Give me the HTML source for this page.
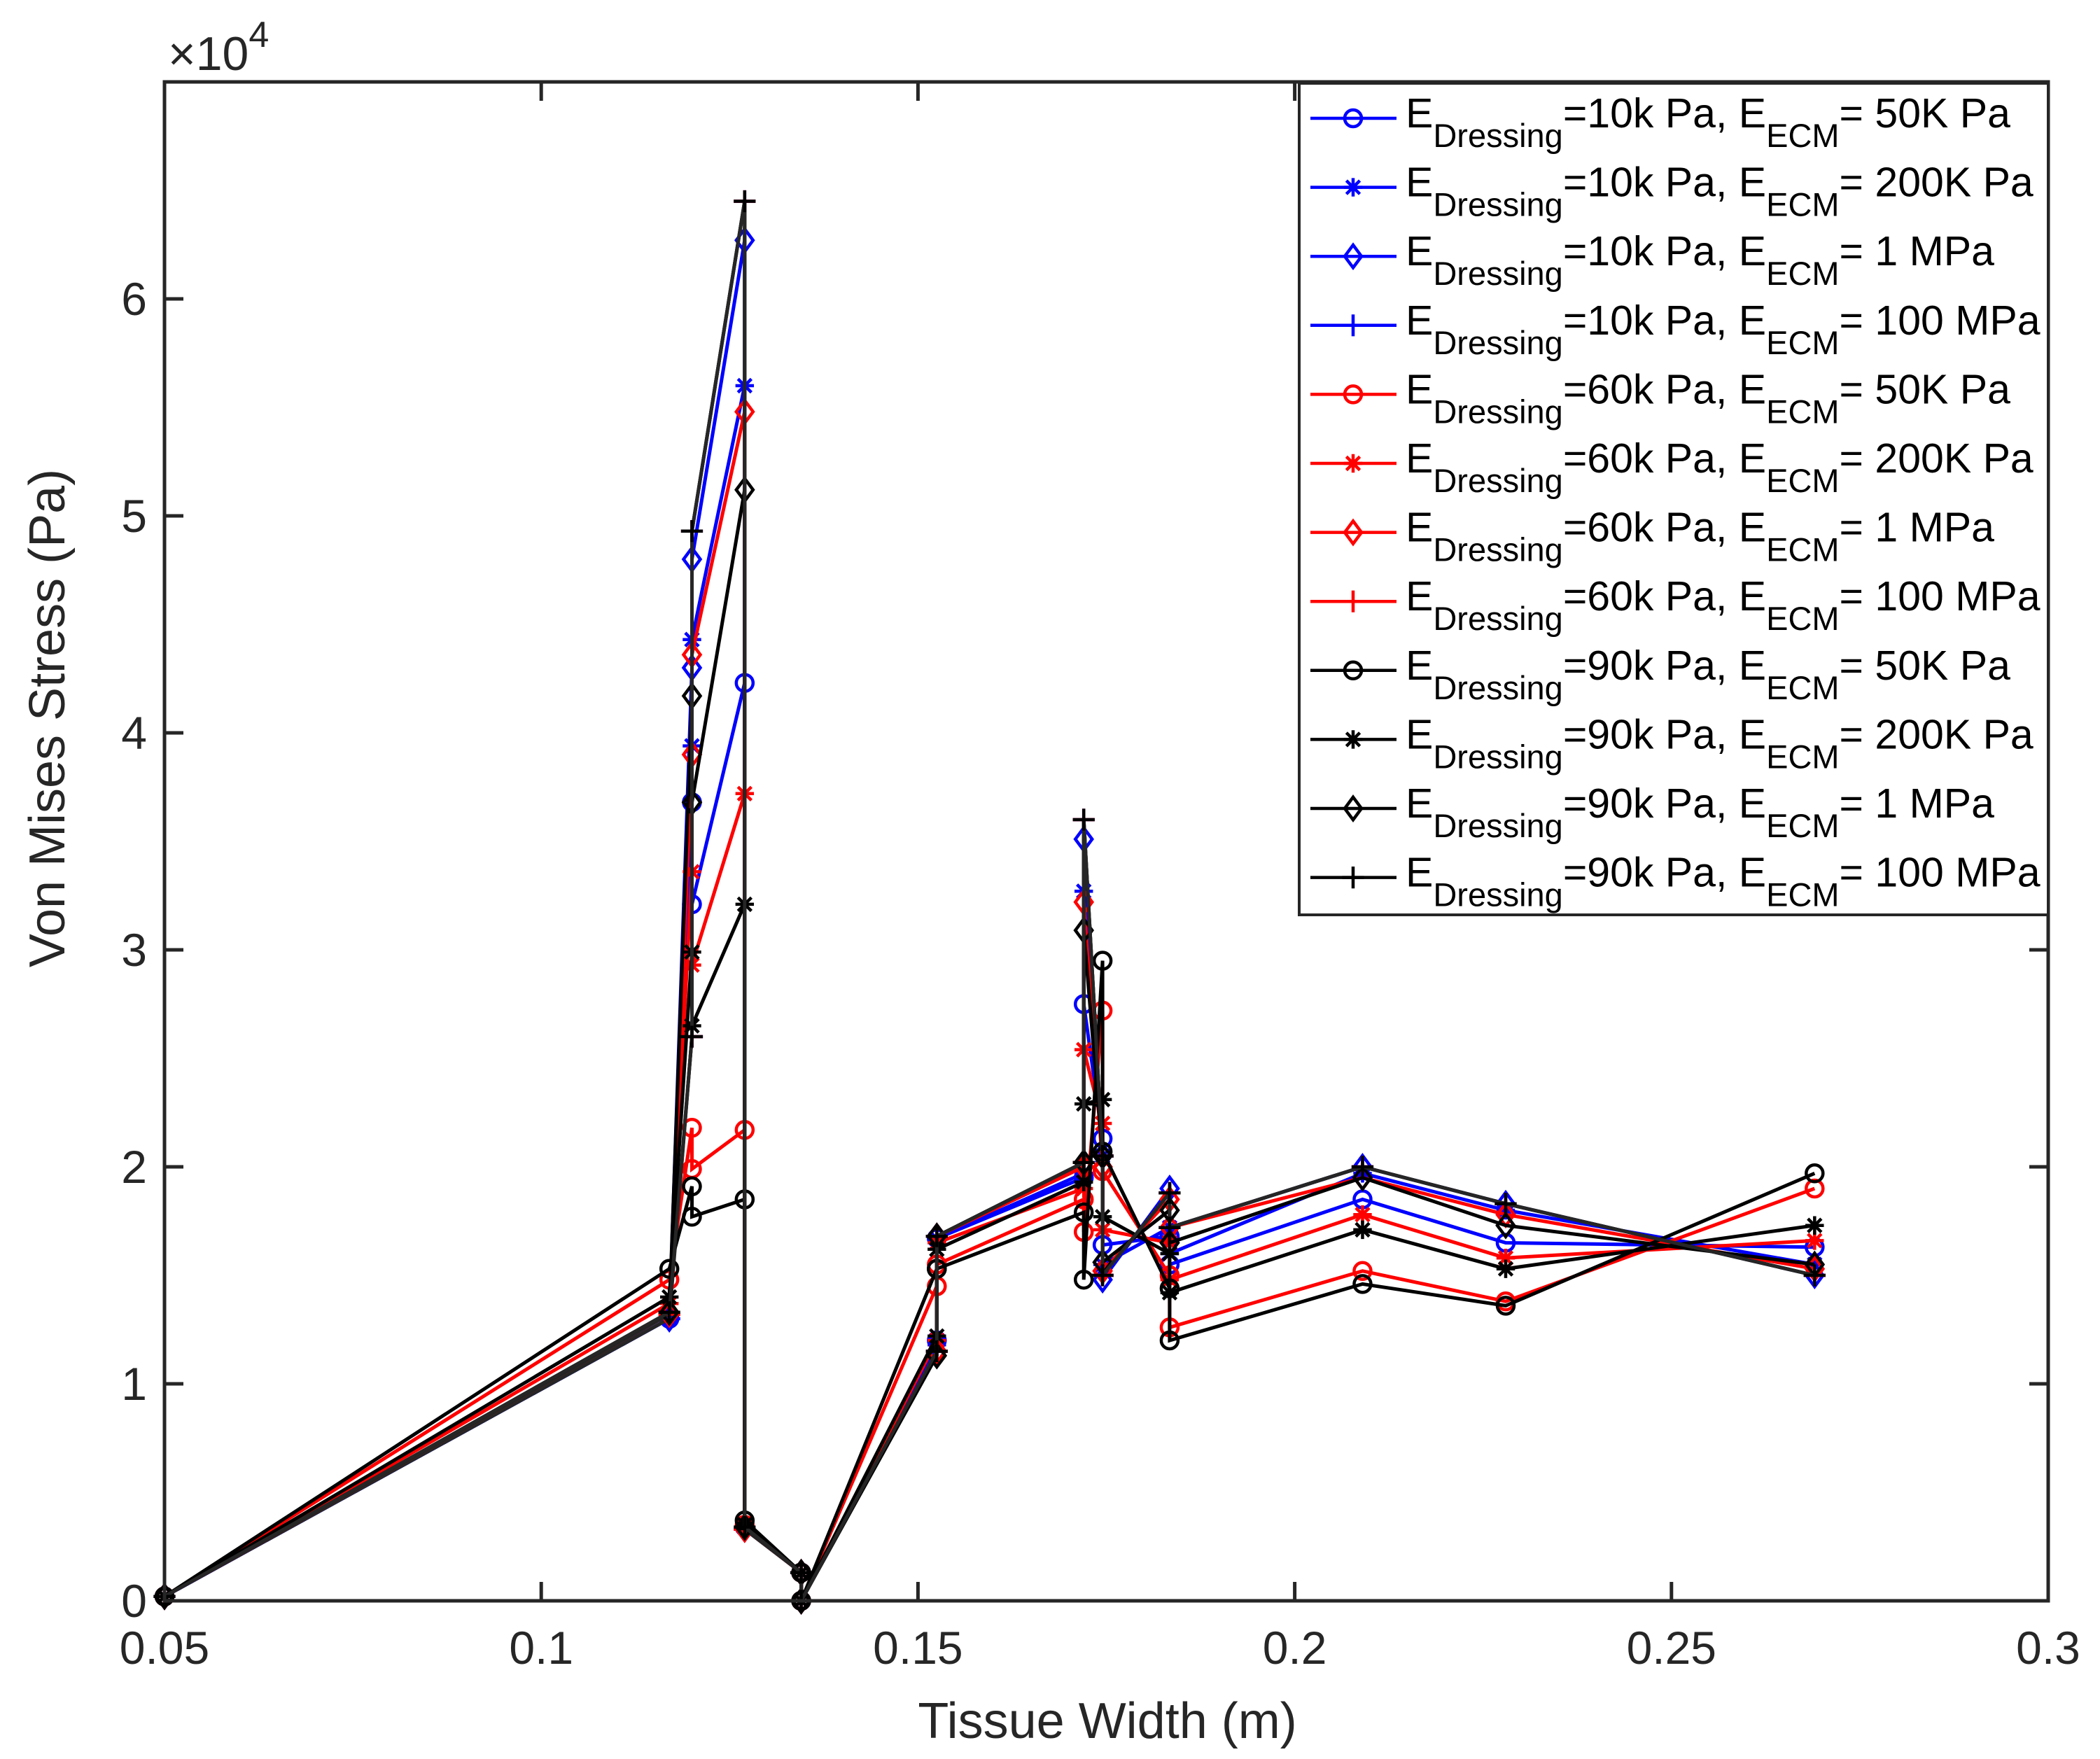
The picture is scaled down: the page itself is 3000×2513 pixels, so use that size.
<!DOCTYPE html>
<html>
<head>
<meta charset="utf-8">
<style>
html,body{margin:0;padding:0;background:#fff;}
svg{display:block;font-family:"Liberation Sans",Arial,sans-serif;}
</style>
</head>
<body>
<svg id="chart" width="3000" height="2513" viewBox="0 0 3000 2513" xmlns="http://www.w3.org/2000/svg">
<rect x="0" y="0" width="3000" height="2513" fill="#fff"/>
<g id="series"></g>
<g id="axes"></g>
<g id="legend"></g>
</svg>
<script>
// ---- data ----
const xPoints = [0.05, 0.117, 0.12, 0.12, 0.127, 0.127, 0.1345, 0.1345, 0.1525, 0.1525, 0.172, 0.172, 0.1745, 0.1745, 0.1834, 0.1834, 0.209, 0.228, 0.269];
const seriesLabels = ["=10k Pa, E|= 50K Pa","=10k Pa, E|= 200K Pa","=10k Pa, E|= 1 MPa","=10k Pa, E|= 100 MPa",
  "=60k Pa, E|= 50K Pa","=60k Pa, E|= 200K Pa","=60k Pa, E|= 1 MPa","=60k Pa, E|= 100 MPa",
  "=90k Pa, E|= 50K Pa","=90k Pa, E|= 200K Pa","=90k Pa, E|= 1 MPa","=90k Pa, E|= 100 MPa"];
const seriesColors = ["#0000ff","#0000ff","#0000ff","#0000ff","#ff0000","#ff0000","#ff0000","#ff0000","#000000","#000000","#000000","#000000"];
const seriesMarkers = ["o","*","d","+","o","*","d","+","o","*","d","+"];
// values in units of 1e4 Pa
const s1  = [0.02,1.30,3.68,3.21,4.23,0.34,0.13,0.0,1.20,1.67,1.95,2.75,2.13,1.64,1.68,1.55,1.85,1.65,1.63];
const s2  = [0.02,1.30,3.94,4.43,5.60,0.34,0.13,0.0,1.18,1.67,1.97,3.27,2.05,1.55,1.72,1.60,1.97,1.80,1.55];
const s3  = [0.02,1.30,4.30,4.80,6.27,0.33,0.13,0.0,1.15,1.68,2.00,3.51,2.05,1.48,1.90,1.72,2.00,1.83,1.50];
const s4  = [0.02,1.30,2.60,4.93,6.45,0.33,0.13,0.0,1.15,1.68,2.02,3.60,2.05,1.50,1.88,1.72,2.00,1.83,1.50];
const s5  = [0.02,1.48,2.18,1.99,2.17,0.35,0.13,0.0,1.45,1.55,1.85,1.70,2.72,1.98,1.50,1.26,1.52,1.38,1.90];
const s6  = [0.02,1.37,3.36,2.93,3.72,0.34,0.13,0.0,1.20,1.65,1.90,2.54,2.20,1.71,1.65,1.48,1.78,1.58,1.66];
const s7  = [0.02,1.32,3.90,4.36,5.48,0.33,0.13,0.0,1.15,1.68,2.00,3.22,2.00,1.52,1.85,1.72,1.95,1.78,1.53];
const s8  = [0.02,1.32,2.60,4.93,6.45,0.33,0.13,0.0,1.15,1.68,2.02,3.60,2.05,1.50,1.88,1.72,2.00,1.83,1.50];
const s9  = [0.02,1.53,1.91,1.77,1.85,0.37,0.13,0.0,1.53,1.53,1.79,1.48,2.95,2.07,1.44,1.20,1.46,1.36,1.97];
const s10 = [0.02,1.40,2.99,2.65,3.21,0.35,0.13,0.0,1.22,1.62,1.93,2.29,2.31,1.77,1.60,1.42,1.71,1.53,1.73];
const s11 = [0.02,1.33,4.17,3.68,5.12,0.34,0.13,0.0,1.13,1.68,2.02,3.09,2.05,1.56,1.80,1.65,1.95,1.73,1.55];
const s12 = [0.02,1.33,2.60,4.93,6.45,0.34,0.13,0.0,1.15,1.68,2.02,3.60,2.05,1.50,1.88,1.72,2.00,1.83,1.50];
const seriesValues = [s1,s2,s3,s4,s5,s6,s7,s8,s9,s10,s11,s12];
const xTicks = [0.05,0.1,0.15,0.2,0.25,0.3];
const xTickLabels = ["0.05","0.1","0.15","0.2","0.25","0.3"];
const yTicks = [0,1,2,3,4,5,6];
const yTickLabels = ["0","1","2","3","4","5","6"];

// ---- layout ----
const L=235, R=2926, T=117, B=2287;
const xMin=0.05, xMax=0.3, yMin=0, yMax=7;
const sx = v => L + (v-xMin)/(xMax-xMin)*(R-L);
const sy = v => B - (v-yMin)/(yMax-yMin)*(B-T);
const NS="http://www.w3.org/2000/svg";
function mk(tag, attrs, parent){const e=document.createElementNS(NS,tag);for(const k in attrs)e.setAttribute(k,attrs[k]);parent.appendChild(e);return e;}

function drawMarker(g, type, cx, cy, color){
  const r=12;
  let m;
  if(type==="o"){ m=mk("circle",{cx:cx,cy:cy,r:r,fill:"none",stroke:color,"stroke-width":4.5},g); }
  else if(type==="d"){ m=mk("polygon",{points:`${cx},${cy-r*1.35} ${cx+r},${cy} ${cx},${cy+r*1.35} ${cx-r},${cy}`,fill:"none",stroke:color,"stroke-width":4.5},g); }
  else if(type==="+"){ m=mk("path",{d:`M${cx-r*1.3},${cy}H${cx+r*1.3}M${cx},${cy-r*1.3}V${cy+r*1.3}`,stroke:color,"stroke-width":4.5},g); }
  else { const a=r*0.8; m=mk("path",{d:`M${cx-r*1.1},${cy}H${cx+r*1.1}M${cx},${cy-r*1.1}V${cy+r*1.1}M${cx-a},${cy-a}L${cx+a},${cy+a}M${cx-a},${cy+a}L${cx+a},${cy-a}`,stroke:color,"stroke-width":4.5},g); }
  return m;
}

// ---- series ----
const sg=document.getElementById("series");
seriesValues.forEach((vals,i)=>{
  const g=mk("g",{},sg);
  
  
  const col = seriesMarkers[i]==="+" ? "#262626" : seriesColors[i];
  const pts = vals.map((v,j)=>sx(xPoints[j]).toFixed(1)+","+sy(v).toFixed(1)).join(" ");
  const pl=mk("polyline",{points:pts,fill:"none",stroke:col,"stroke-width":5,"stroke-linejoin":"miter"},g);
  
  
  vals.forEach((v,j)=>{
    const m=drawMarker(g, seriesMarkers[i], sx(xPoints[j]), sy(v), seriesColors[i]);
    
    
  });
});

// ---- axes ----
const ag=document.getElementById("axes");
const ac="#262626";
const box=mk("rect",{x:L,y:T,width:R-L,height:B-T,fill:"none",stroke:ac,"stroke-width":5},ag);


xTicks.forEach((t,i)=>{
  const x=sx(t);
  const tk=mk("path",{d:`M${x},${B}V${B-27}M${x},${T}V${T+27}`,stroke:ac,"stroke-width":5},ag);
  
  
  const lb=mk("text",{x:x,y:2377,"font-size":66,fill:ac,"text-anchor":"middle"},ag);
  lb.textContent=xTickLabels[i];
  
  
});
yTicks.forEach((t,i)=>{
  const y=sy(t);
  const tk=mk("path",{d:`M${L},${y}H${L+27}M${R},${y}H${R-27}`,stroke:ac,"stroke-width":5},ag);
  
  
  const lb=mk("text",{x:210,y:y+23,"font-size":66,fill:ac,"text-anchor":"end"},ag);
  lb.textContent=yTickLabels[i];
  
  
});
</script>
<script>
(function(){
const NS="http://www.w3.org/2000/svg";
const svg=document.getElementById("chart");
function t(attrs){const e=document.createElementNS(NS,"text");for(const k in attrs)e.setAttribute(k,attrs[k]);svg.appendChild(e);return e;}
const xt=t({x:1582,y:2483,"font-size":72,fill:"#262626","text-anchor":"middle"});
xt.textContent="Tissue Width (m)";


const yt=t({x:0,y:0,"font-size":72,fill:"#262626","text-anchor":"middle",transform:"translate(92,1026) rotate(-90)"});
yt.textContent="Von Mises Stress (Pa)";


const ex=t({x:240,y:100,"font-size":68,fill:"#262626"});
ex.innerHTML='×10<tspan font-size="52" dy="-33">4</tspan>';



// legend
const lg=document.getElementById("legend");
function mk(tag, attrs, parent){const e=document.createElementNS(NS,tag);for(const k in attrs)e.setAttribute(k,attrs[k]);parent.appendChild(e);return e;}
const lb=mk("rect",{x:1856,y:119,width:1070,height:1188,fill:"#fff",stroke:"#262626","stroke-width":4},lg);


seriesLabels.forEach((lab,i)=>{
  const cy=169+i*98.6;
  const g=mk("g",{},lg);
  
  
  mk("line",{x1:1872,y1:cy,x2:1995,y2:cy,stroke:seriesColors[i],"stroke-width":4.5},g);
  drawMarker(g, seriesMarkers[i], 1933, cy, seriesColors[i]);
  const parts=lab.split("|");
  const tx=mk("text",{x:2008,y:cy+13,"font-size":59,fill:"#000"},g);
  tx.innerHTML='E<tspan font-size="47" dy="28">Dressing</tspan><tspan dy="-28">'+parts[0]+'</tspan><tspan font-size="47" dy="28">ECM</tspan><tspan dy="-28">'+parts[1]+'</tspan>';
});
})();
</script>
</body>
</html>
